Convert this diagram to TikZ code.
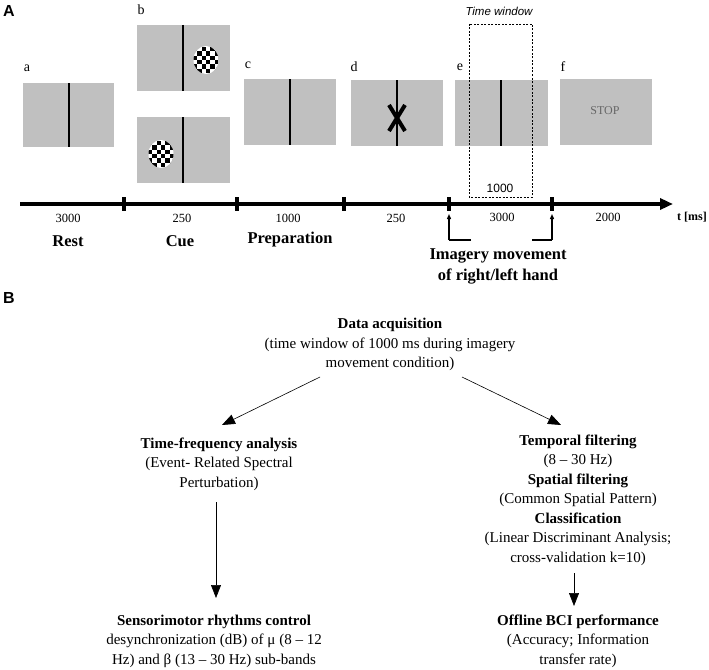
\documentclass[tikz,border=0pt]{standalone}
\usepackage{fontspec}
\setmainfont{Liberation Serif}
\newfontfamily\sansf{Liberation Sans}
\usetikzlibrary{arrows.meta}
\definecolor{scr}{RGB}{192,192,192}
\begin{document}
\begin{tikzpicture}[x=1pt,y=-1pt,
  screen/.style={fill=scr,draw=none},
  vline/.style={line width=2.2pt},
  lab/.style={font=\fontsize{14}{16}\selectfont},
  num/.style={font=\fontsize{12.5}{14}\selectfont},
  phase/.style={font=\bfseries\fontsize{16.5}{21}\selectfont,align=center},
  txt/.style={align=center,font=\fontsize{15}{19.5}\selectfont},
  arr/.style={-{Triangle[length=13pt,width=10pt]},line width=0.6pt},
  up/.style={-{Triangle[length=5pt,width=4pt]},line width=1.3pt}]
\useasboundingbox (0,0) rectangle (709,669);
\newcommand{\checker}[2]{%
  \begin{scope}
  \clip (#1,#2) ellipse (12.5 and 14);
  \fill[white] (#1,#2) ellipse (12.5 and 14);
  \foreach \i in {0,...,5}{\foreach \j in {0,...,5}{%
    \pgfmathtruncatemacro{\p}{mod(\i+\j,2)}%
    \ifnum\p=0 \fill[black] (#1-13.2+\i*4.4,#2-13.2+\j*4.4) rectangle ++(4.4,4.4);\fi}}
  \end{scope}}
% labels A B
\node[font=\sansf\bfseries\fontsize{16}{18}\selectfont] (A) at (9,11) {A};
\node[font=\sansf\bfseries\fontsize{16}{18}\selectfont] (B) at (9,298) {B};
% screens
\fill[screen] (23,83) rectangle (114,147); \draw[vline] (69,83) -- (69,147);
\fill[screen] (137,25) rectangle (230,91); \draw[vline] (183,25) -- (183,91);
\checker{206}{60}
\fill[screen] (137,117) rectangle (230,183); \draw[vline] (183,117) -- (183,183);
\checker{161}{154}
\fill[screen] (244,79) rectangle (336,145); \draw[vline] (290,79) -- (290,145);
\fill[screen] (351,80) rectangle (443,146); \draw[vline] (397,80) -- (397,146);
\draw[line width=4pt] (389,105) -- (405,131) (405,105) -- (389,131);
\fill[screen] (455,80) rectangle (548,146); \draw[vline] (501,80) -- (501,146);
\fill[screen] (560,79) rectangle (652,145);
\node[font=\fontsize{12}{14}\selectfont, text=black!60] (stop) at (605,111) {STOP};
\node[lab] (la) at (27,68) {a};
\node[lab] (lb) at (141,10) {b};
\node[lab] (lc) at (248,65) {c};
\node[lab] (ld) at (354,67) {d};
\node[lab] (le) at (460,67) {e};
\node[lab] (lf) at (563,67) {f};
% time window
\draw[dashed,line width=0.7pt,dash pattern=on 2pt off 1.5pt] (469,24) rectangle (532,197);
\node[font=\sansf\itshape\fontsize{11.5}{13}\selectfont] (tw) at (499,11) {Time window};
\node[font=\sansf\fontsize{12}{14}\selectfont] (tw1) at (500,188) {1000};
% timeline
\coordinate (t0) at (20,204);
\coordinate (t1) at (673,204);
\draw[line width=3.5pt,-{Triangle[length=13pt,width=11pt]}] (t0) -- (t1);
\foreach \x in {124,237,344,449,552}{\draw[line width=3.2pt] (\x,197) -- (\x,211);}
\node[num] (n1) at (68,218) {3000};
\node[num] (n2) at (182,218) {250};
\node[num] (n3) at (288,218) {1000};
\node[num] (n4) at (396,218) {250};
\node[num] (n5) at (502,217) {3000};
\node[num] (n6) at (608,217) {2000};
\node[font=\bfseries\fontsize{12}{14}\selectfont] (tms) at (692,217) {t [ms]};
\node[phase] (rest) at (68,241) {Rest};
\node[phase] (cue) at (180,241) {Cue};
\node[phase] (prep) at (290,240) {Preparation};
\node[phase] (img) at (498,266) {Imagery movement\\of right/left hand};
\coordinate (ua) at (449,240); \coordinate (ua2) at (449,214);
\coordinate (ub) at (552,240); \coordinate (ub2) at (552,214);
\coordinate (ha) at (471,240); \coordinate (hb) at (532,240);
\draw[line width=1.3pt] (ha) -- (ua);
\draw[up] (ua) -- (ua2);
\draw[line width=1.3pt] (hb) -- (ub);
\draw[up] (ub) -- (ub2);
% part B
\node[txt] (data) at (390,344.5) {\textbf{Data acquisition}\\(time window of 1000 ms during imagery\\movement condition)};
\node[txt] (tf) at (219,464) {\textbf{Time-frequency analysis}\\(Event- Related Spectral\\Perturbation)};
\node[txt] (proc) at (578,500) {\textbf{Temporal filtering}\\(8 – 30 Hz)\\\textbf{Spatial filtering}\\(Common Spatial Pattern)\\\textbf{Classification}\\(Linear Discriminant Analysis;\\cross-validation k=10)};
\node[txt] (smr) at (214,641) {\textbf{Sensorimotor rhythms control}\\desynchronization (dB) of μ (8 – 12\\Hz) and β (13 – 30 Hz) sub-bands};
\node[txt] (bci) at (578,641) {\textbf{Offline BCI performance}\\(Accuracy; Information\\transfer rate)};
\coordinate (d1) at (320,377); \coordinate (d2) at (222,425);
\coordinate (d3) at (462,377); \coordinate (d4) at (561,425);
\coordinate (d5) at (216,502); \coordinate (d6) at (216,598);
\coordinate (d7) at (574,573); \coordinate (d8) at (574,606);
\draw[arr] (d1) -- (d2);
\draw[arr] (d3) -- (d4);
\draw[arr] (d5) -- (d6);
\draw[arr] (d7) -- (d8);
\end{tikzpicture}
\end{document}
